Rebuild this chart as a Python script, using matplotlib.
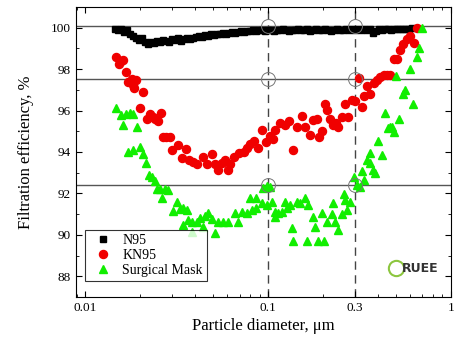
import matplotlib
matplotlib.use('Agg')
import matplotlib.pyplot as plt
import matplotlib.ticker as ticker

plt.rcParams['font.family'] = ['Liberation Serif', 'DejaVu Serif']
plt.rcParams['mathtext.fontset'] = 'stix'

# N95 - черные квадраты
d_n95 = [0.0146, 0.0152, 0.0158, 0.0164, 0.0170, 0.0176, 0.0183, 0.0190, 0.0197, 0.0205,
         0.0213, 0.0221, 0.0229, 0.0238, 0.0247, 0.0257, 0.0267, 0.0277, 0.0288, 0.0299,
         0.0311, 0.0322, 0.0335, 0.0348, 0.0361, 0.0375, 0.0389, 0.0404, 0.0420, 0.0436,
         0.0453, 0.0470, 0.0488, 0.0507, 0.0527, 0.0547, 0.0568, 0.0590, 0.0613, 0.0637,
         0.0661, 0.0687, 0.0713, 0.0741, 0.0769, 0.0799, 0.0830, 0.0862, 0.0895, 0.0930,
         0.0965, 0.1003, 0.104, 0.108, 0.112, 0.117, 0.121, 0.126, 0.131, 0.136,
         0.141, 0.146, 0.152, 0.158, 0.164, 0.170, 0.177, 0.184, 0.191, 0.198,
         0.206, 0.214, 0.222, 0.230, 0.239, 0.248, 0.258, 0.268, 0.278, 0.289,
         0.300, 0.311, 0.323, 0.336, 0.349, 0.362, 0.376, 0.391, 0.406, 0.421,
         0.438, 0.455, 0.472, 0.490, 0.509, 0.529, 0.550, 0.571, 0.593, 0.616]
e_n95 = [99.95, 99.9, 99.95, 99.8, 99.9, 99.7, 99.6, 99.5, 99.4, 99.5,
         99.3, 99.2, 99.3, 99.25, 99.35, 99.3, 99.4, 99.35, 99.3, 99.45,
         99.4, 99.5, 99.35, 99.45, 99.5, 99.45, 99.5, 99.55, 99.6, 99.55,
         99.65, 99.6, 99.7, 99.65, 99.7, 99.7, 99.75, 99.7, 99.75, 99.8,
         99.75, 99.8, 99.85, 99.8, 99.85, 99.85, 99.9, 99.85, 99.9, 99.9,
         99.85, 99.9, 99.9, 99.85, 99.9, 99.9, 99.95, 99.9, 99.85, 99.9,
         99.9, 99.95, 99.9, 99.9, 99.95, 99.85, 99.9, 99.95, 99.9, 99.9,
         99.95, 99.9, 99.85, 99.9, 99.95, 99.9, 99.9, 99.95, 99.9, 99.95,
         99.9, 99.95, 99.9, 99.95, 99.9, 99.95, 99.75, 99.85, 99.95, 99.9,
         99.95, 99.95, 99.9, 99.95, 99.95, 99.95, 99.95, 99.95, 99.95, 100.0]

# KN95 - красные круги
d_kn95 = [0.0148, 0.0153, 0.0157, 0.0161, 0.0168, 0.0172, 0.0181, 0.0183, 0.0185, 0.0190,
          0.0200, 0.0208, 0.0218, 0.0227, 0.0235, 0.0241, 0.0251, 0.0260, 0.0267, 0.0277,
          0.0291, 0.0299, 0.0322, 0.0339, 0.0356, 0.0370, 0.0389, 0.0409, 0.0441, 0.0464,
          0.0494, 0.0513, 0.0533, 0.0561, 0.0582, 0.0604, 0.0620, 0.0652, 0.0694, 0.0739,
          0.0768, 0.0797, 0.0838, 0.0882, 0.0927, 0.0975, 0.1025, 0.1065, 0.1092, 0.1163,
          0.1239, 0.1303, 0.137, 0.1441, 0.1534, 0.1593, 0.1696, 0.1762, 0.1853, 0.1899,
          0.1973, 0.2049, 0.2101, 0.2182, 0.2266, 0.2353, 0.2413, 0.2537, 0.2635, 0.2736,
          0.2877, 0.2988, 0.3143, 0.3264, 0.3347, 0.3475, 0.3609, 0.3795, 0.3941, 0.4093,
          0.4305, 0.447, 0.4642, 0.4881, 0.5069, 0.5264, 0.5467, 0.5748, 0.597, 0.6278,
          0.6519]
e_kn95 = [98.6, 98.25, 98.4, 98.45, 97.85, 97.4, 97.5, 97.25, 97.1, 97.45,
          96.1, 96.9, 95.6, 95.85, 95.7, 95.6, 95.5, 95.9, 94.7, 94.7,
          94.7, 94.1, 94.35, 93.7, 94.15, 93.6, 93.5, 93.4, 93.75, 93.4,
          93.9, 93.4, 93.15, 93.45, 93.6, 93.15, 93.4, 93.75, 93.95, 94.0,
          94.2, 94.4, 94.55, 94.2, 95.05, 94.5, 94.75, 94.65, 95.05, 95.4,
          95.3, 95.5, 94.1, 95.2, 95.75, 95.2, 94.8, 95.55, 95.6, 94.7,
          95.0, 96.3, 96.05, 95.6, 95.3, 95.4, 95.2, 95.7, 96.3, 95.7,
          96.5, 96.45, 97.55, 96.15, 96.7, 97.2, 96.8, 97.35, 97.45, 97.6,
          97.7, 97.7, 97.7, 98.5, 98.5, 98.9, 99.2, 99.45, 99.6, 99.25,
          100.0]

# Surgical Mask - зеленые треугольники
d_surg = [0.0148, 0.0157, 0.0161, 0.0168, 0.0176, 0.0183, 0.0192, 0.0172, 0.0183, 0.0200,
          0.0208, 0.0215, 0.0224, 0.0232, 0.0241, 0.0247, 0.0257, 0.0264, 0.0274, 0.0284,
          0.0303, 0.0318, 0.0330, 0.0343, 0.0361, 0.0343, 0.0366, 0.0384, 0.0384, 0.0409,
          0.0425, 0.0441, 0.0453, 0.0470, 0.0494, 0.0513, 0.0533, 0.0568, 0.0604, 0.0660,
          0.0686, 0.0721, 0.0768, 0.0797, 0.0818, 0.0860, 0.0860, 0.0927, 0.0939, 0.0987,
          0.1025, 0.0987, 0.1052, 0.1092, 0.1092, 0.1134, 0.1192, 0.1239, 0.1270, 0.1319,
          0.1352, 0.1370, 0.1441, 0.1496, 0.1593, 0.1654, 0.1633, 0.1762, 0.1807, 0.1876,
          0.1973, 0.2023, 0.2101, 0.2237, 0.2266, 0.2324, 0.2413, 0.2537, 0.2602, 0.2635,
          0.2702, 0.2806, 0.2951, 0.3064, 0.3182, 0.3264, 0.3347, 0.3475, 0.3609, 0.3749,
          0.3844, 0.3609, 0.3992, 0.4198, 0.4359, 0.4526, 0.4642, 0.4760, 0.4881, 0.5006,
          0.5198, 0.5467, 0.5608, 0.597, 0.620, 0.6519, 0.6686, 0.6942]
e_surg = [96.1, 95.8, 95.3, 95.85, 95.9, 95.85, 95.2, 94.0, 94.1, 94.25,
          93.9, 93.45, 92.9, 92.8, 92.6, 92.2, 92.2, 91.8, 92.2, 92.15,
          91.15, 91.6, 91.25, 91.3, 91.2, 90.5, 90.7, 90.15, 90.6, 90.6,
          90.8, 90.4, 90.9, 91.05, 90.75, 90.1, 90.6, 90.6, 90.6, 91.05,
          90.6, 91.1, 91.05, 91.8, 91.2, 91.3, 91.8, 91.55, 92.25, 92.35,
          92.3, 91.45, 91.6, 90.85, 91.1, 91.05, 91.1, 91.6, 91.3, 91.45,
          90.35, 89.7, 91.6, 91.55, 91.8, 91.45, 89.7, 90.85, 90.4, 89.7,
          91.05, 89.7, 90.6, 91.0, 91.55, 90.6, 90.25, 91.0, 91.95, 91.7,
          91.2, 91.6, 92.8, 92.4, 92.3, 93.1, 92.65, 93.6, 93.45, 93.15,
          93.0, 93.95, 94.55, 93.85, 95.9, 95.15, 95.2, 95.2, 94.95, 97.65,
          95.6, 96.8, 97.0, 98.0, 96.3, 98.6, 99.0, 100.0]

# уровни и размеры частиц для вспомогательных линий
levels = [100.1, 97.5, 92.4]
sizes = [0.1, 0.3]

fig = plt.figure(figsize=(4.54, 3.47), dpi=100)
ax = fig.add_axes([0.167, 0.144, 0.826, 0.836])

for lv in levels:
    ax.axhline(lv, color='#555555', lw=1.0, zorder=1)
for s in sizes:
    ax.axvline(s, color='#444444', lw=1.0, ls=(0, (6, 4)), zorder=1)

ax.plot(d_n95, e_n95, 's', color='black', ms=4.4, label='N95', zorder=3)
ax.plot(d_kn95, e_kn95, 'o', color='#f00000', ms=5.8, label='KN95', zorder=3)
ax.plot(d_surg, e_surg, '^', color='#11ee00', ms=6, label='Surgical Mask', zorder=3)

# кружки на пересечениях
for s in sizes:
    for lv in levels:
        ax.plot(s, lv, 'o', ms=10, mfc='none', mec='#777777', mew=0.7, zorder=4)

ax.set_xscale('log')
ax.set_xlim(0.0089, 1.0)
ax.set_ylim(87, 101)
ax.xaxis.set_major_locator(ticker.FixedLocator([0.01, 0.1, 0.3, 1]))
ax.xaxis.set_major_formatter(ticker.FixedFormatter(['0.01', '0.1', '0.3', '1']))
ax.xaxis.set_minor_locator(ticker.LogLocator(base=10, subs=range(2, 10)))
ax.xaxis.set_minor_formatter(ticker.NullFormatter())
ax.yaxis.set_major_locator(ticker.MultipleLocator(2))
ax.yaxis.set_minor_locator(ticker.MultipleLocator(1))
ax.tick_params(which='both', direction='in', top=True, right=True, labelsize=9.5)
ax.tick_params(which='major', length=4)
ax.tick_params(which='minor', length=2)

ax.set_xlabel('Particle diameter, μm', fontsize=12, labelpad=3)
ax.set_ylabel('Filtration efficiency, %', fontsize=12, labelpad=12)

leg = ax.legend(loc='lower left', fontsize=10, frameon=True, fancybox=False,
                edgecolor='black', handletextpad=0.4, borderpad=0.3, labelspacing=0.15,
                bbox_to_anchor=(0.005, 0.03))
leg.get_frame().set_linewidth(0.8)

# логотип
ax.text(0.87, 0.1, 'RUEE', transform=ax.transAxes, fontsize=9, fontweight='bold',
        color='#333333', family='DejaVu Sans', ha='left', va='center')
ax.plot(0.855, 0.1, 'o', transform=ax.transAxes, ms=11, mfc='none', mec='#8cc63f', mew=1.5)

fig.savefig('out.png', dpi=100)
